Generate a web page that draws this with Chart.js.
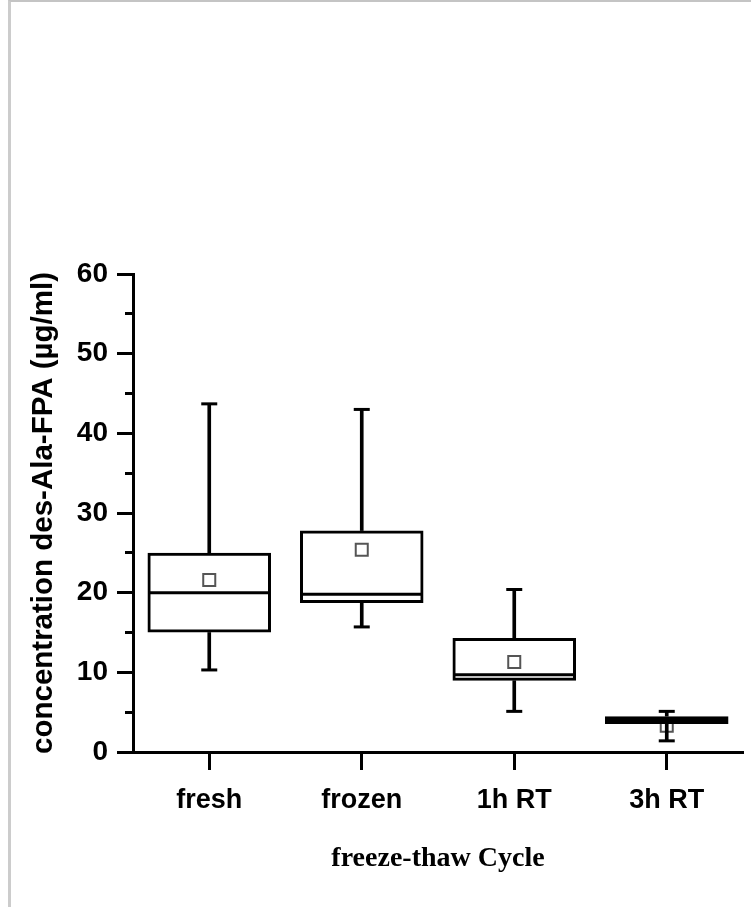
<!DOCTYPE html>
<html>
<head>
<meta charset="utf-8">
<script src="https://cdn.jsdelivr.net/npm/chart.js@4.4.1/dist/chart.umd.min.js"></script>
<style>
  html, body { margin: 0; padding: 0; background: #fff; }
  #frame { position: absolute; left: 8px; top: 0; width: 743px; height: 907px;
           border-top: 2px solid #c4c4c4; border-left: 3px solid #cccccc; box-sizing: border-box; }
  #statsChart { position: absolute; left: 0; top: 0; }
</style>
</head>
<body>
<div id="frame"></div>
<canvas id="statsChart" width="751" height="907"></canvas>
<script>
// données (µg/ml)
const categories = ['fresh', 'frozen', '1h RT', '3h RT'];
const minValues = [10.3, 15.7, 5.1, 1.4];
const q1Values = [15.0, 18.7, 8.95, 3.5];
const medianValues = [20.0, 19.8, 9.7, 4.0];
const q3Values = [25.0, 27.8, 14.3, 4.5];
const maxValues = [43.7, 43.0, 20.4, 5.1];
const meanValues = [21.6, 25.4, 11.3, 3.3];
const yTicksMajor = 10;
const yTicksMinor = 5;

const boxes = categories.map((c, i) => [q1Values[i], q3Values[i]]);
const lowWhiskers = categories.map((c, i) => [minValues[i], q1Values[i]]);
const highWhiskers = categories.map((c, i) => [q3Values[i], maxValues[i]]);

const sans = 'Liberation Sans, Arial, sans-serif';

const ctx = document.getElementById('statsChart');

new Chart(ctx, {
    type: 'bar',
    data: {
        labels: categories,
        datasets: [
            {
                // moyenne
                type: 'line', data: meanValues, order: 6, showLine: false,
                pointStyle: 'rect', pointRadius: 8.5, pointHoverRadius: 8.5,
                pointBackgroundColor: '#fff', pointBorderColor: '#555', pointBorderWidth: 2
            },
            {
                data: lowWhiskers, order: 5, grouped: false, barThickness: 3,
                backgroundColor: '#000', borderWidth: 0
            },
            {
                data: highWhiskers, order: 5, grouped: false, barThickness: 3,
                backgroundColor: '#000', borderWidth: 0
            },
            {
                // boîte q1-q3
                data: boxes, order: 4, grouped: false,
                barPercentage: 0.81, categoryPercentage: 1,
                backgroundColor: 'rgba(255,255,255,0)', borderColor: '#000',
                borderWidth: 3, borderSkipped: false
            },
            {
                // médiane
                type: 'line', data: medianValues, order: 3, showLine: false,
                pointStyle: 'line', pointRadius: 61, pointHoverRadius: 61,
                pointBorderColor: '#000', pointBorderWidth: 3
            },
            {
                type: 'line', data: minValues, order: 2, showLine: false,
                pointStyle: 'line', pointRadius: 8, pointHoverRadius: 8,
                pointBorderColor: '#000', pointBorderWidth: 3
            },
            {
                type: 'line', data: maxValues, order: 2, showLine: false,
                pointStyle: 'line', pointRadius: 8, pointHoverRadius: 8,
                pointBorderColor: '#000', pointBorderWidth: 3
            }
        ]
    },
    options: {
        responsive: false,
        animation: false,
        devicePixelRatio: 1,
        events: [],
        layout: { autoPadding: false, padding: { top: 274, right: 8, left: 0, bottom: 0 } },
        plugins: { legend: { display: false }, tooltip: { enabled: false } },
        scales: {
            x: {
                type: 'category',
                offset: true,
                grid: { offset: false, drawOnChartArea: false, tickLength: 18, tickWidth: 3, tickColor: '#000' },
                border: { color: '#000', width: 3 },
                ticks: { color: '#000', padding: 14, maxRotation: 0, font: { family: sans, size: 27, weight: 'bold' } },
                title: {
                    display: true, text: 'freeze-thaw Cycle', color: '#000',
                    font: { family: 'Liberation Serif, Times New Roman, serif', size: 28, weight: 'bold' },
                    padding: { top: 0, bottom: 31 }
                },
                afterFit: scale => { scale.height = 155; }
            },
            y: {
                position: 'left', weight: 1,
                min: 0, max: 60,
                grid: { drawOnChartArea: false, tickLength: 16, tickWidth: 3, tickColor: '#000' },
                border: { color: '#000', width: 3 },
                ticks: { stepSize: yTicksMajor, color: '#000', padding: 9, font: { family: sans, size: 28, weight: 'bold' } },
                title: {
                    display: true, text: 'concentration des-Ala-FPA (µg/ml)', color: '#000',
                    font: { family: sans, size: 29.5, weight: 'bold' },
                    padding: { top: 26, bottom: 0 }
                },
                afterFit: scale => { scale.width = 133; }
            },
            yMinor: {
                position: 'left', weight: 0,
                min: 0, max: 60,
                grid: { drawOnChartArea: false, tickLength: 8, tickWidth: 3, tickColor: '#000' },
                border: { display: false },
                ticks: { stepSize: yTicksMinor, display: false },
                afterFit: scale => { scale.width = 0; }
            }
        }
    }
});
</script>
</body>
</html>
